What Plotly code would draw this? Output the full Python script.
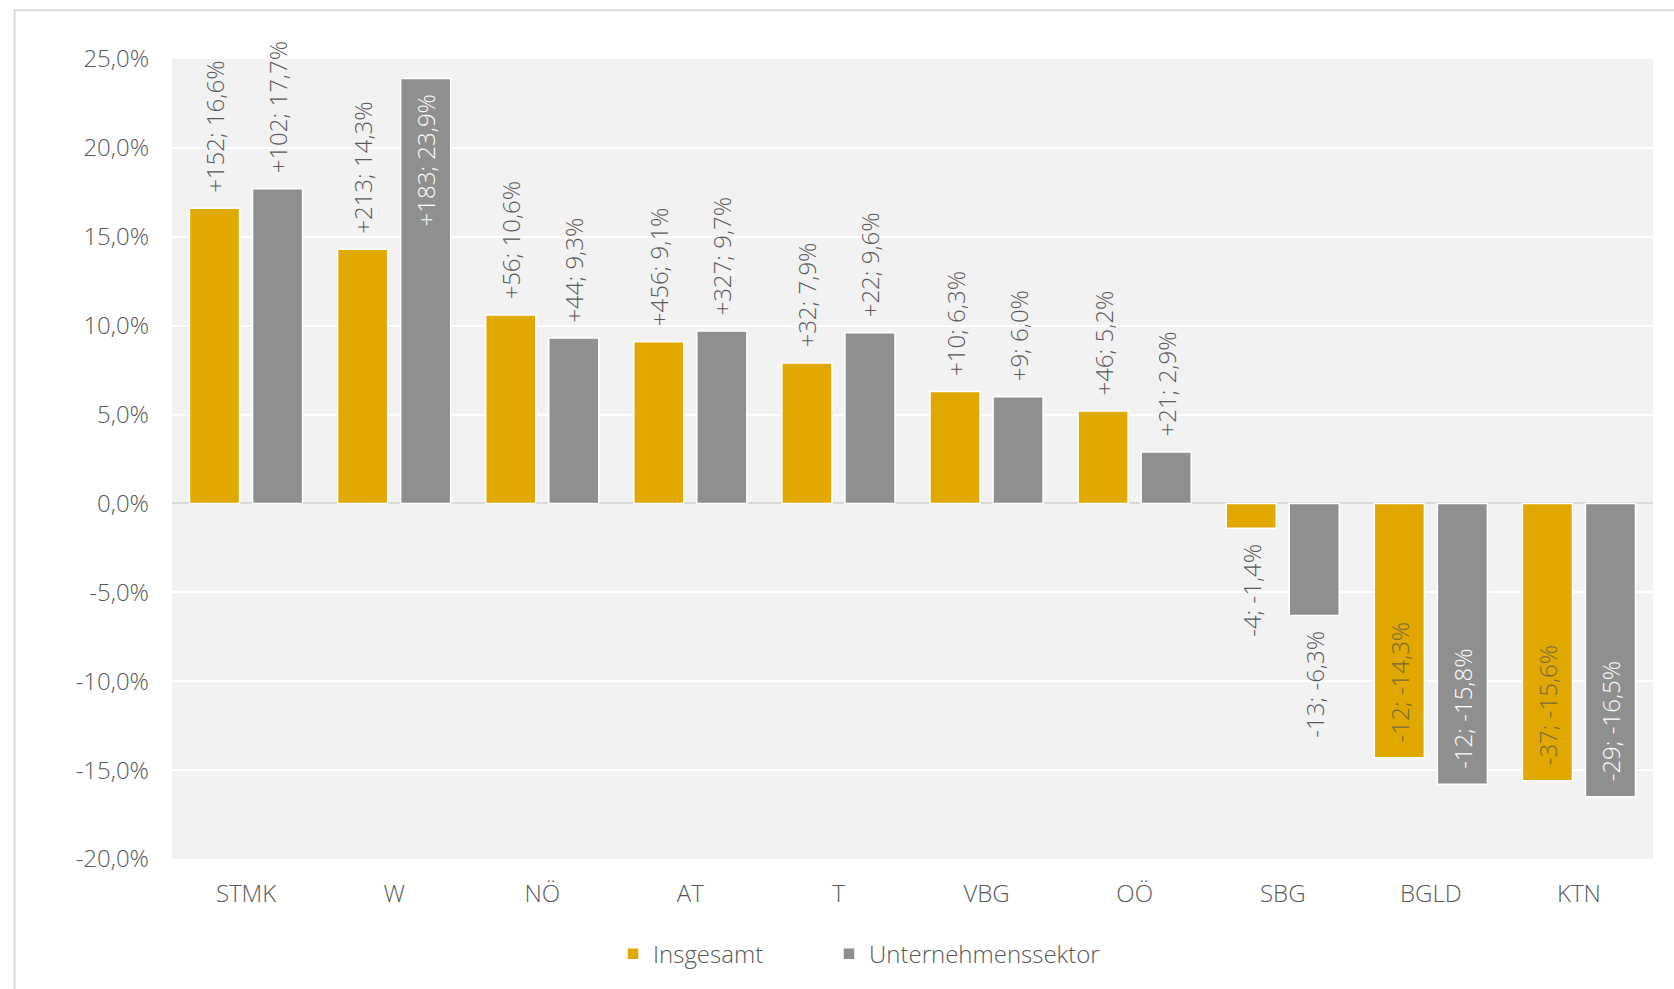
import plotly.graph_objects as go

regions = ["STMK", "W", "NÖ", "AT", "T", "VBG", "OÖ", "SBG", "BGLD", "KTN"]

gesamt_pct = [16.6, 14.3, 10.6, 9.1, 7.9, 6.3, 5.2, -1.4, -14.3, -15.6]
gesamt_abs = [152, 213, 56, 456, 32, 10, 46, -4, -12, -37]
gesamt_pos = ["outside", "outside", "outside", "outside", "outside",
              "outside", "outside", "outside", "inside", "inside"]

unternehmen_pct = [17.7, 23.9, 9.3, 9.7, 9.6, 6.0, 2.9, -6.3, -15.8, -16.5]
unternehmen_abs = [102, 183, 44, 327, 22, 9, 21, -13, -12, -29]
unternehmen_pos = ["outside", "inside", "outside", "outside", "outside",
                   "outside", "outside", "outside", "inside", "inside"]

y_ticks = [-20, -15, -10, -5, 0, 5, 10, 15, 20, 25]

GOLD = "#E0A800"
GREY = "#8F8F8F"
TEXT = "#595959"
FONT = "Open Sans, Segoe UI, sans-serif"
SIZE = 24
WEIGHT = 300
PAD = "\u00a0\u00a0"


def de(v):
    return f"{v:.1f}".replace(".", ",")


def label(a, p, pos):
    sign = "+" if a > 0 else ""
    s = f"{sign}{a}; {de(p)}%"
    # keep a little air between the bar end and its rotated label
    near_start = (p > 0) == (pos == "outside")
    return PAD + s if near_start else s + PAD


def colors(pos, inside_color):
    return [inside_color if q == "inside" else TEXT for q in pos]


def font(color=TEXT, size=SIZE):
    return dict(family=FONT, size=size, weight=WEIGHT, color=color)


fig = go.Figure()
fig.add_trace(go.Bar(
    name="Insgesamt",
    legend="legend",
    x=regions,
    y=gesamt_pct,
    marker=dict(color=GOLD, line=dict(color="white", width=1.5)),
    text=[label(a, p, q) for a, p, q in zip(gesamt_abs, gesamt_pct, gesamt_pos)],
    textposition=gesamt_pos,
    insidetextanchor="end",
    textangle=-90,
    constraintext="none",
    textfont=font(colors(gesamt_pos, "#76683f")),
    cliponaxis=False,
))
fig.add_trace(go.Bar(
    name="Unternehmenssektor",
    legend="legend2",
    x=regions,
    y=unternehmen_pct,
    marker=dict(color=GREY, line=dict(color="white", width=1.5)),
    text=[label(a, p, q) for a, p, q in zip(unternehmen_abs, unternehmen_pct, unternehmen_pos)],
    textposition=unternehmen_pos,
    insidetextanchor="end",
    textangle=-90,
    constraintext="none",
    textfont=font(colors(unternehmen_pos, "white")),
    cliponaxis=False,
))

# outer chart frame (cropped at right and bottom)
fig.add_shape(type="rect", xref="paper", yref="paper",
              x0=-0.1063, x1=1.2, y0=-0.4, y1=1.061,
              line=dict(color="#D9D9D9", width=2), layer="below")

legend_style = dict(orientation="h", yanchor="middle", xanchor="left", y=-0.119,
                    bgcolor="rgba(0,0,0,0)", font=font())

fig.update_layout(
    width=1674, height=989,
    margin=dict(l=172, r=21, t=59, b=130),
    paper_bgcolor="white",
    plot_bgcolor="#F2F2F2",
    barmode="group",
    bargap=0.149,
    bargroupgap=0.206,
    font=font(),
    showlegend=True,
    legend=dict(x=(613 - 172) / 1481, **legend_style),
    legend2=dict(x=(829 - 172) / 1481, **legend_style),
    xaxis=dict(showgrid=False, showline=False, ticks="",
               ticklabelstandoff=18, tickfont=font()),
    yaxis=dict(range=[-20, 25], tickvals=y_ticks,
               ticktext=[de(v) + "%" for v in y_ticks],
               showgrid=True, gridcolor="white", gridwidth=2,
               zeroline=True, zerolinecolor="#D9D9D9", zerolinewidth=2,
               showline=False, ticks="", ticklabelstandoff=22,
               tickfont=font()),
)

fig.write_html("out.html")
